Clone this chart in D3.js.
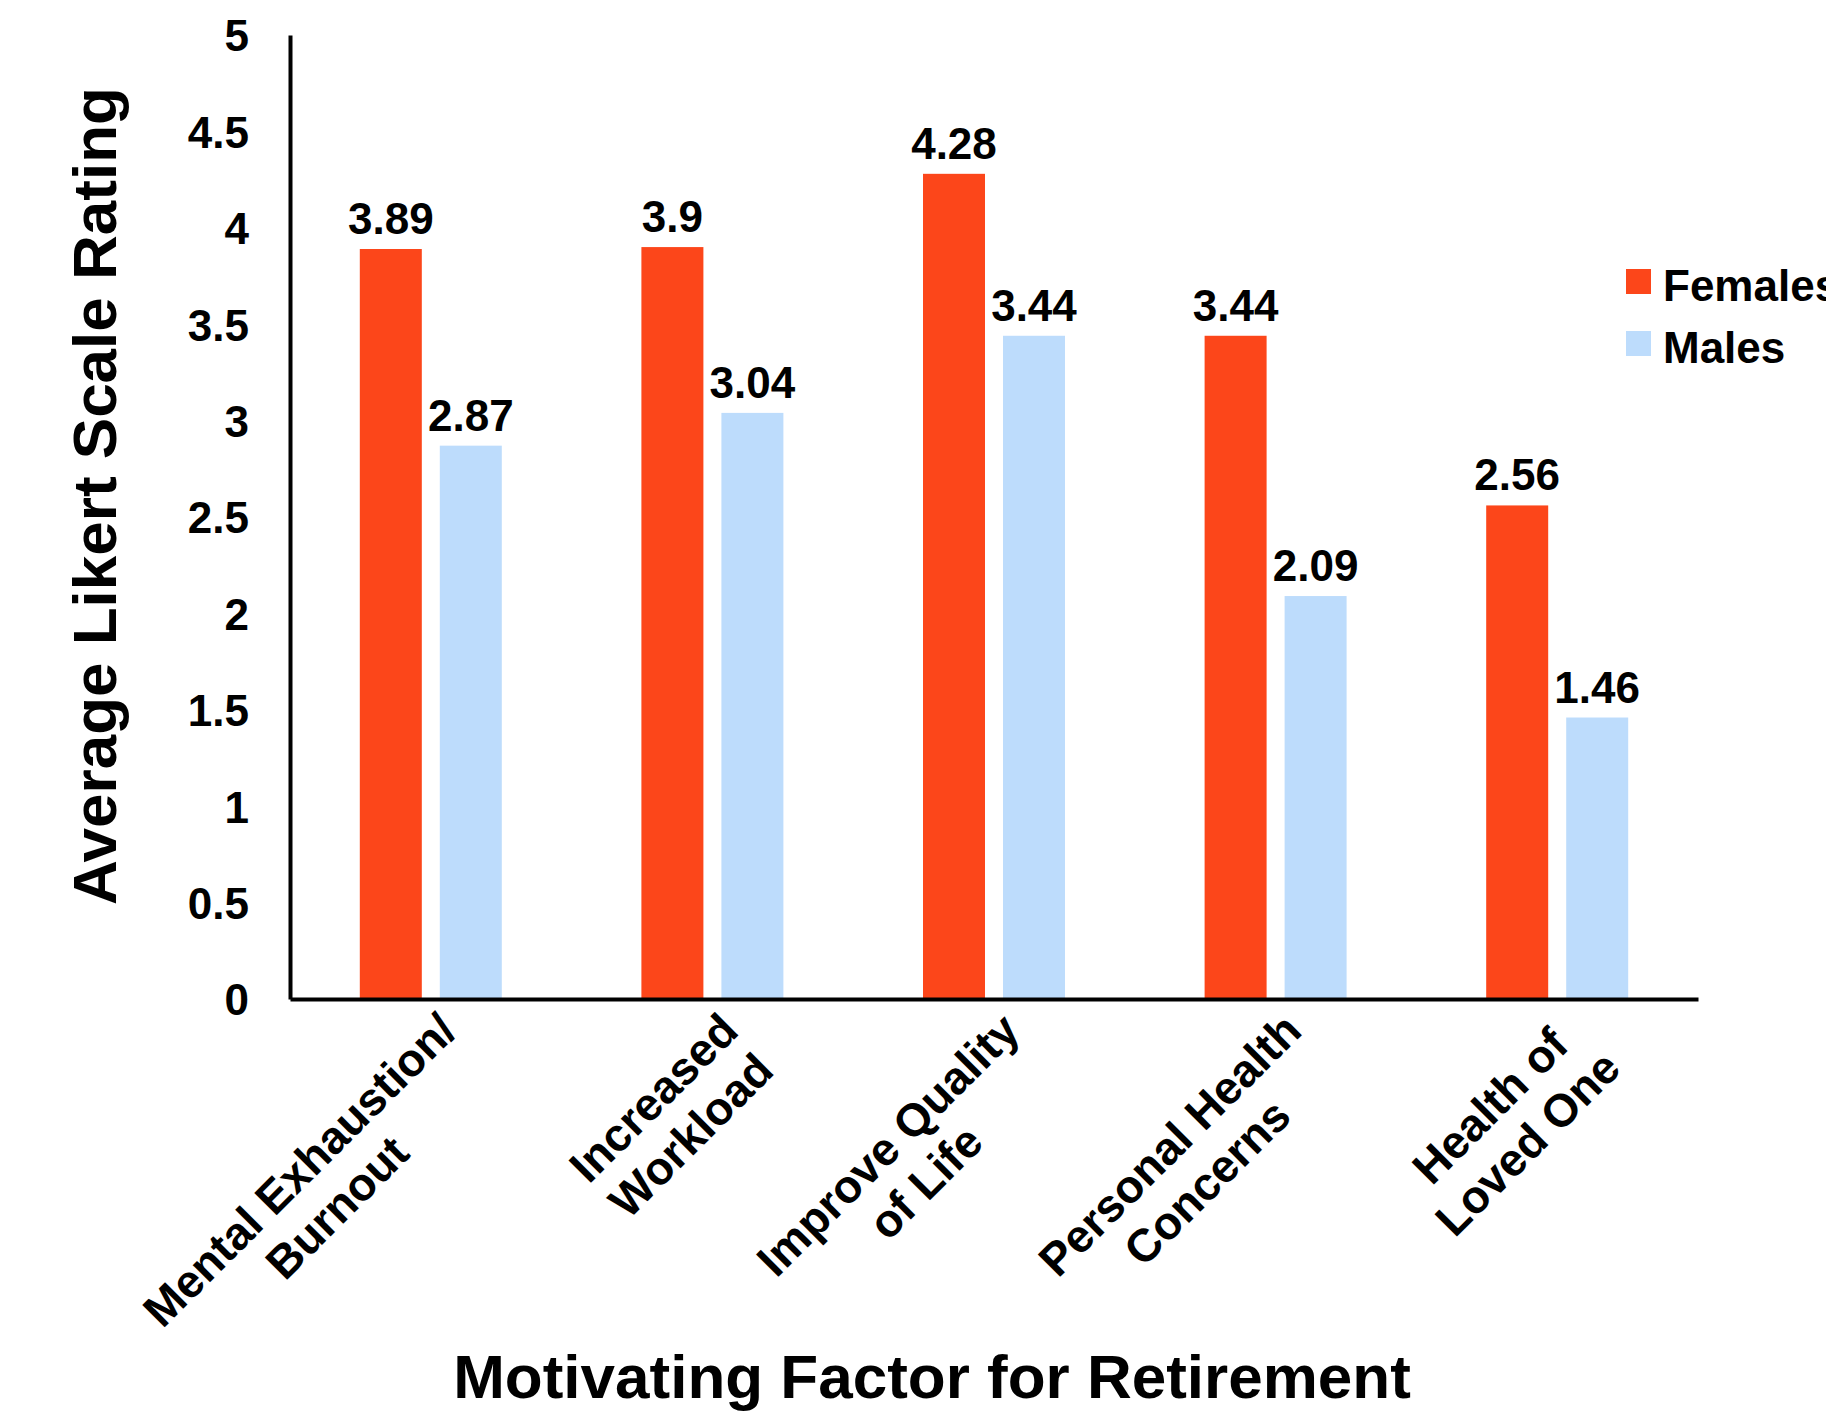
<!DOCTYPE html>
<html>
<head>
<meta charset="utf-8">
<script src="https://cdn.jsdelivr.net/npm/d3@7"></script>
<style>
  html, body { margin: 0; padding: 0; background: #fff; }
  svg { display: block; font-family: "Liberation Sans", Arial, Helvetica, sans-serif; font-weight: bold; }
</style>
</head>
<body>
<div id="chart"></div>
<script>
// chart values
const categories = ['Mental Exhaustion/ Burnout', 'Increased Workload', 'Improve Quality of Life', 'Personal Health Concerns', 'Health of Loved One'];
const categoryLines = [['Mental Exhaustion/', 'Burnout'], ['Increased', 'Workload'], ['Improve Quality', 'of Life'], ['Personal Health', 'Concerns'], ['Health of', 'Loved One']];
const seriesNames = ['Females', 'Males'];
const females = [3.89, 3.9, 4.28, 3.44, 2.56];
const males = [2.87, 3.04, 3.44, 2.09, 1.46];
const yTicks = [0, 0.5, 1, 1.5, 2, 2.5, 3, 3.5, 4, 4.5, 5];
const yTitle = 'Average Likert Scale Rating';
const xTitle = 'Motivating Factor for Retirement';

const colors = {Females: '#fc461a', Males: '#bddcfc'};

const _w = 1826, _h = 1418;
const margin = {left: 290, right: 128, top: 35, bottom: 419};

const svg = d3.select('#chart').append('svg')
  .attr('width', _w)
  .attr('height', _h);

const x0 = d3.scaleBand()
  .domain(categories)
  .range([margin.left, _w - margin.right])
  .padding(0);

const x1 = d3.scaleBand()
  .domain(seriesNames)
  .range([0, x0.bandwidth()])
  .paddingInner(0.225)
  .paddingOuter(0.8725);

const y = d3.scaleLinear()
  .domain([0, 5])
  .range([_h - margin.bottom, margin.top]);

const rows = categories.map((c, i) => ({cat: c, lines: categoryLines[i], Females: females[i], Males: males[i]}));

// bars
const groups = svg.selectAll('.group')
  .data(rows)
  .enter().append('g')
  .attr('class', 'group')
  .attr('transform', d => `translate(${x0(d.cat)},0)`);

const bars = groups.selectAll('.bar')
  .data(d => seriesNames.map(s => ({key: s, value: d[s]})))
  .enter();

bars.append('rect')
  .attr('class', 'bar')
  .attr('x', d => x1(d.key))
  .attr('y', d => y(d.value))
  .attr('width', x1.bandwidth())
  .attr('height', d => y(0) - y(d.value))
  .attr('fill', d => colors[d.key]);

bars.append('text')
  .attr('x', d => x1(d.key) + x1.bandwidth() / 2)
  .attr('y', d => y(d.value) - 15)
  .attr('text-anchor', 'middle')
  .attr('font-size', 44)
  .attr('fill', '#000')
  .text(d => d.value);

// y axis
const yAxis = svg.append('g')
  .attr('transform', `translate(${margin.left},0)`)
  .call(d3.axisLeft(y).tickValues(yTicks).tickSize(0).tickPadding(41).tickFormat(d => d));

yAxis.select('.domain').attr('stroke', '#000').attr('stroke-width', 4);
yAxis.selectAll('text')
  .attr('font-size', 44)
  .attr('font-family', '"Liberation Sans", Arial, sans-serif')
  .attr('font-weight', 'bold')
  .attr('fill', '#000')
  .attr('dy', '0.36em');

// x axis line
const xAxis = svg.append('g')
  .attr('transform', `translate(0,${y(0)})`)
  .call(d3.axisBottom(x0).tickSize(0).tickFormat(''));
xAxis.select('.domain').attr('stroke', '#000').attr('stroke-width', 4);
xAxis.selectAll('.tick').remove();

// rotated category labels
const lineH = 53;
const labels = svg.selectAll('.cat-label')
  .data(rows)
  .enter().append('g')
  .attr('class', 'cat-label')
  .attr('transform', d => `translate(${x0(d.cat) + x0.bandwidth() / 2 + 2},${y(0) + 8}) rotate(-45)`);

labels.each(function(d){
  const g = d3.select(this);
  const texts = g.selectAll('text')
    .data(d.lines)
    .enter().append('text')
    .attr('font-size', 46)
    .attr('text-anchor', 'middle')
    .attr('fill', '#000')
    .attr('y', (l, i) => 37 + i * lineH)
    .text(l => l);
  let maxW = 0;
  texts.each(function(){ maxW = Math.max(maxW, this.getComputedTextLength()); });
  texts.attr('x', -maxW / 2);
});

// axis titles
svg.append('text')
  .attr('transform', `translate(116,${496}) rotate(-90)`)
  .attr('text-anchor', 'middle')
  .attr('font-size', 62)
  .text(yTitle);

svg.append('text')
  .attr('x', 932)
  .attr('y', 1398)
  .attr('text-anchor', 'middle')
  .attr('font-size', 62)
  .text(xTitle);

// legend
const legend = svg.selectAll('.legend')
  .data(seriesNames)
  .enter().append('g')
  .attr('class', 'legend')
  .attr('transform', (d, i) => `translate(1626,${269 + i * 62})`);

legend.append('rect')
  .attr('width', 25)
  .attr('height', 25)
  .attr('fill', d => colors[d]);

legend.append('text')
  .attr('x', 37)
  .attr('y', 32)
  .attr('font-size', 44)
  .text(d => d);
</script>
</body>
</html>
